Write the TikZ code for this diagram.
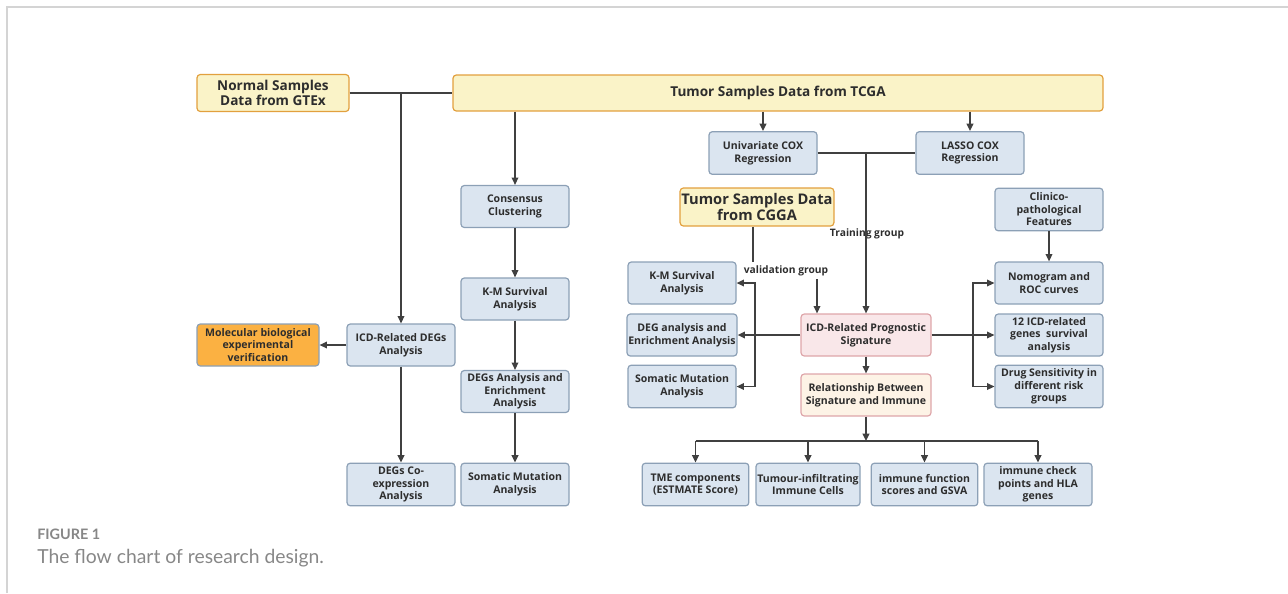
\documentclass[tikz,border=0pt]{standalone}
\usepackage{fontspec}
\newfontfamily\boxfont{Open Sans}
\newfontfamily\capfont{Lato}
\usepackage{tikz}
\usetikzlibrary{positioning, arrows.meta, calc}
\definecolor{boxblue}{RGB}{219,229,240}
\definecolor{edgeblue}{RGB}{140,160,182}
\definecolor{srcyellow}{RGB}{250,243,200}
\definecolor{srcedge}{RGB}{226,160,62}
\definecolor{wetorange}{RGB}{251,177,66}
\definecolor{sigpink}{RGB}{249,231,233}
\definecolor{sigedge}{RGB}{222,166,170}
\definecolor{relpeach}{RGB}{253,243,230}
\definecolor{wire}{RGB}{64,64,64}
\definecolor{ink}{RGB}{45,45,45}
\definecolor{capgrey}{RGB}{135,135,135}
\definecolor{framegrey}{RGB}{212,212,212}

\begin{document}
\begin{tikzpicture}[
  x=0.75pt, y=-0.75pt,
  bluebox/.style={draw=edgeblue, fill=boxblue, rounded corners=2.5pt, line width=0.9pt,
                  minimum width=81pt, minimum height=31.5pt, inner sep=1pt,
                  font=\boxfont\bfseries\fontsize{7.9}{9.4}\selectfont, text=ink, align=center},
  srcbox/.style={bluebox, draw=srcedge, fill=srcyellow,
                 font=\boxfont\bfseries\fontsize{10.2}{11.5}\selectfont},
  wetbox/.style={bluebox, fill=wetorange, minimum width=91.5pt},
  sigbox/.style={bluebox, draw=sigedge, fill=sigpink, minimum width=97.5pt},
  relbox/.style={sigbox, fill=relpeach},
  link/.style={line width=1.1pt, color=wire},
  arr/.style={link, -{Triangle[length=5.5pt, width=5pt]}},
  lbl/.style={font=\boxfont\bfseries\fontsize{7.7}{9}\selectfont, text=ink, inner sep=0pt},
]
\useasboundingbox (0,0) rectangle (1288,593);
\draw[framegrey, line width=1pt] (7,593) -- (7,7) -- (1288,7);

% data sources
\node[srcbox, minimum width=114pt, minimum height=27.75pt] (gtex) at (273,93) {Normal Samples\\Data from GTEx};
\node[srcbox, minimum width=487.5pt, minimum height=27pt] (tcga) at (778,93) {Tumor Samples Data from TCGA};
\node[srcbox, minimum width=114pt, minimum height=28.5pt,
      font=\boxfont\bfseries\fontsize{11}{12.5}\selectfont] (cgga) at (757,207) {Tumor Samples Data\\from CGGA};

% left branch
\node[bluebox] (icddegs) at (401,345) {ICD-Related DEGs\\Analysis};
\node[wetbox] (molec) at (258,345) {Molecular biological\\experimental\\verification};
\node[bluebox, minimum height=32pt] (coexp) at (401,484.5) {DEGs Co-\\expression\\Analysis};

% consensus branch
\node[bluebox] (consensus) at (515,206.5) {Consensus\\Clustering};
\node[bluebox] (kmA) at (515,299) {K-M Survival\\Analysis};
\node[bluebox] (degsA) at (515,391.5) {DEGs Analysis and\\Enrichment\\Analysis};
\node[bluebox, minimum height=32pt] (somA) at (515,484.5) {Somatic Mutation\\Analysis};

% COX models
\node[bluebox, minimum height=32pt] (univ) at (763,153) {Univariate COX\\Regression};
\node[bluebox, minimum height=32pt] (lasso) at (970,153) {LASSO COX\\Regression};

% signature and validation
\node[sigbox] (sig) at (866,335) {ICD-Related Prognostic\\Signature};
\node[relbox] (rel) at (866,395) {Relationship Between\\Signature and Immune};
\node[bluebox] (kmB) at (682,283) {K-M Survival\\Analysis};
\node[bluebox] (degB) at (682,335) {DEG analysis and\\Enrichment Analysis};
\node[bluebox, minimum height=32pt] (somB) at (682,386.5) {Somatic Mutation\\Analysis};

% clinical side
\node[bluebox, minimum height=32pt] (clin) at (1049,209.5) {Clinico-\\pathological\\Features};
\node[bluebox] (nomo) at (1049,283) {Nomogram and\\ROC curves};
\node[bluebox] (gene12) at (1049,335) {12 ICD-related\\genes\ \ survival\\analysis};
\node[bluebox, minimum height=32pt] (drug) at (1049,386.5) {Drug Sensitivity in\\different risk\\groups};

% immune boxes
\node[bluebox, minimum width=80pt, minimum height=32pt] (tme) at (695.5,484.5) {TME components\\(ESTMATE Score)};
\node[bluebox, minimum width=78pt, minimum height=32pt] (til) at (808,484.5) {Tumour-infiltrating\\Immune Cells};
\node[bluebox, minimum width=80pt, minimum height=32pt] (imf) at (924.5,484.5) {immune function\\scores and GSVA};
\node[bluebox, minimum height=32pt] (ick) at (1038,484.5) {immune check\\points and HLA\\genes};

% group labels
\node[lbl] (train) at (867,234) {Training group};
\node[lbl] (valid) at (786,271) {validation group};

% junctions
\coordinate (gtexj) at (401,93);
\coordinate (coxj) at (866,153);
\coordinate (cggadrop) at (753,262);
\coordinate (validx) at (817,279);
\coordinate (lbr) at (755,335);
\coordinate (rbr) at (973,335);
\coordinate (bus) at (866,441);

% top connections
\draw[link] (gtex.east) -- (tcga.west);
\draw[arr] (gtexj) -- (icddegs.north);
\draw[arr] (tcga.south -| consensus) -- (consensus.north);
\draw[arr] (tcga.south -| univ) -- (univ.north);
\draw[arr] (tcga.south -| lasso) -- (lasso.north);

% left chains
\draw[arr] (icddegs.west) -- (molec.east);
\draw[arr] (icddegs) -- (coexp);
\draw[arr] (consensus) -- (kmA);
\draw[arr] (kmA) -- (degsA);
\draw[arr] (degsA) -- (somA);

% training and validation
\draw[link] (univ.east) -- (lasso.west);
\draw[arr] (coxj) -- (sig.north);
\draw[link] (cgga.south -| cggadrop) -- (cggadrop);
\draw[arr] (validx) -- (validx |- sig.north);

% signature outputs
\draw[arr] (sig.west) -- (degB.east);
\draw[arr] (lbr) |- (kmB.east);
\draw[arr] (lbr) |- (somB.east);
\draw[arr] (sig.east) -- (gene12.west);
\draw[arr] (rbr) |- (nomo.west);
\draw[arr] (rbr) |- (drug.west);
\draw[arr] (clin) -- (nomo);
\draw[arr] (sig) -- (rel);

% immune bus
\draw[arr] (rel.south) -- (bus);
\draw[link] (tme.north |- bus) -- (ick.north |- bus);
\foreach \n in {tme, til, imf, ick}
  \draw[arr] (\n.north |- bus) -- (\n.north);

% caption
\node[anchor=west, inner sep=0pt, text=capgrey, font=\capfont\bfseries\fontsize{10.8}{12}\selectfont] (fignum) at (37,534) {FIGURE 1};
\node[anchor=west, inner sep=0pt, text=capgrey, font=\capfont\fontsize{14.5}{16}\selectfont] (figcap) at (37,558) {The flow chart of research design.};
\end{tikzpicture}
\end{document}
